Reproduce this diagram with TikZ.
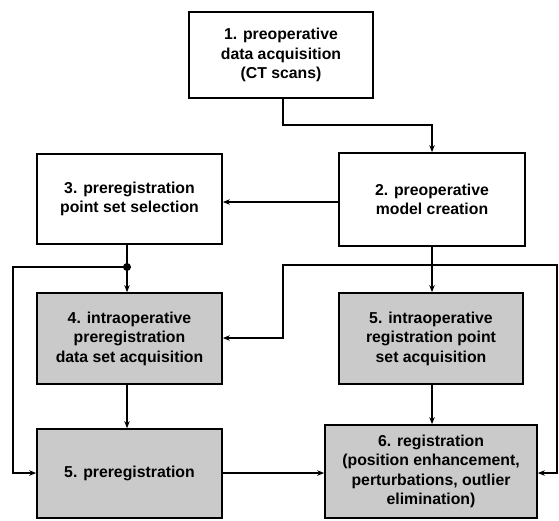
\documentclass[tikz,border=0pt]{standalone}
\usepackage{fontspec}
\setmainfont{Liberation Sans}
\usetikzlibrary{arrows.meta}
\definecolor{boxgray}{RGB}{202,202,202}
\tikzset{
  box/.style={draw, line width=1.7pt, align=center, inner sep=0pt,
    font=\bfseries\fontsize{15.8}{19.5}\selectfont},
  graybox/.style={box, fill=boxgray},
  conn/.style={line width=1.6pt},
  arr/.style={conn, -{Stealth[length=7pt,width=5.5pt]}},
}
\begin{document}
\begin{tikzpicture}[x=1pt,y=-1pt]
\useasboundingbox (0,0) rectangle (559,520);
% boxes
\node[box, minimum width=184pt, minimum height=86pt] (b1) at (281,55)
  {1. preoperative\\data acquisition\\(CT scans)};
\node[box, minimum width=186pt, minimum height=93pt] (b2) at (432,199.5)
  {2. preoperative\\model creation};
\node[box, minimum width=185pt, minimum height=90pt] (b3) at (129.5,199)
  {3. preregistration\\point set selection};
\node[graybox, minimum width=185pt, minimum height=91pt] (b4) at (129.5,338.5)
  {4. intraoperative\\preregistration\\data set acquisition};
\node[graybox, minimum width=185pt, minimum height=89pt] (b5l) at (129.5,473.5)
  {5. preregistration};
\node[graybox, minimum width=184pt, minimum height=91pt] (b5r) at (431,338.5)
  {5. intraoperative\\registration point\\set acquisition};
\node[graybox, minimum width=212pt, minimum height=93pt] (b6) at (431,471.5)
  {6. registration\\(position enhancement,\\perturbations, outlier\\elimination)};
% junction coordinates
\coordinate (k1) at (283,125);
\coordinate (d3) at (127,267);
\coordinate (l1) at (13,267);
\coordinate (j2) at (432,265);
\coordinate (jl) at (283,265);
\coordinate (jr) at (557,265);
% connectors
\draw[arr] (b1.south -| k1) -- (k1) -| (b2.north -| j2);
\draw[arr] (b2.west |- 0,202) -- (b3.east |- 0,202);
\draw[conn] (b3.south -| d3) -- (d3);
\fill (d3) circle (4pt);
\draw[arr] (d3) -- (b4.north -| d3);
\draw[arr] (d3) -- (l1) |- (b5l.west |- 0,473);
\draw[arr] (b4.south -| d3) -- (b5l.north -| d3);
\draw[conn] (b2.south -| j2) -- (j2);
\draw[arr] (j2) -- (b5r.north -| j2);
\draw[arr] (j2) -- (jl) |- (b4.east |- 0,338);
\draw[arr] (j2) -- (jr) |- (b6.east |- 0,473);
\draw[arr] (b5l.east |- 0,473) -- (b6.west |- 0,473);
\draw[arr] (b5r.south -| j2) -- (b6.north -| j2);
\end{tikzpicture}
\end{document}
